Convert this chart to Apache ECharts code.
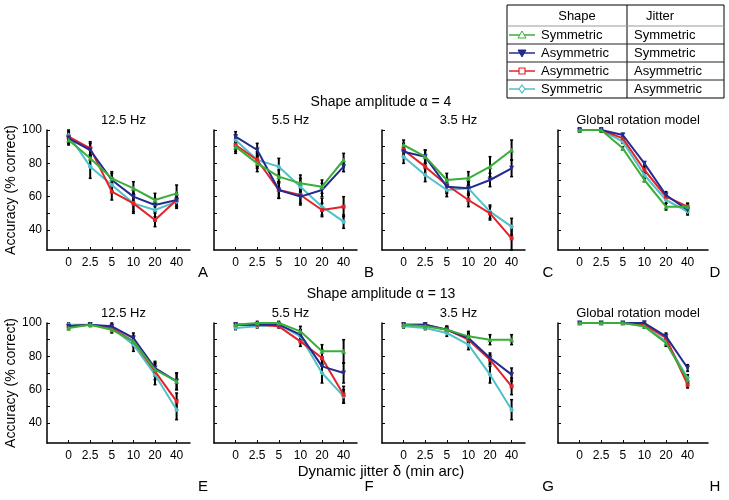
<!DOCTYPE html>
<html><head><meta charset="utf-8">
<script src="https://cdn.jsdelivr.net/npm/echarts@6/dist/echarts.min.js"></script>
<style>html,body{margin:0;padding:0;background:#fff}#c{width:729px;height:500px}</style>
</head><body><div id="c"></div>
<script>
// ---------- data ----------
const jitterLabels = ['0', '2.5', '5', '10', '20', '40'];
const jitterIndex = [0, 1, 2, 3, 4, 5];
const shapeNames = ['Symmetric', 'Asymmetric', 'Asymmetric', 'Symmetric'];
const jitterNames = ['Symmetric', 'Symmetric', 'Asymmetric', 'Asymmetric'];
const panelTitles = ['12.5 Hz', '5.5 Hz', '3.5 Hz', 'Global rotation model',
                     '12.5 Hz', '5.5 Hz', '3.5 Hz', 'Global rotation model'];
const panelLetters = ['A', 'B', 'C', 'D', 'E', 'F', 'G', 'H'];
const rowTitles = ['Shape amplitude \u03b1 = 4', 'Shape amplitude \u03b1 = 13'];
const yTickLabels = [40, 60, 80, 100];
const yTicks = [40, 50, 60, 70, 80, 90, 100];

// series order in each panel: [green Sym/Sym, blue Asym/Sym, red Asym/Asym, cyan Sym/Asym]
const panelA = [[94, 83, 71, 65, 58, 62], [95, 88, 70, 60, 55, 58], [96, 89, 63, 56, 46, 58], [97, 78, 67, 56, 52, 57]];
const panelB = [[90, 80, 72, 68, 66, 82], [96, 88, 64, 60, 64, 78], [91, 82, 64, 61, 52, 54], [94, 82, 78, 66, 54, 45]];
const panelC = [[91, 84, 70, 71, 78, 88], [87, 84, 66, 65, 70, 77], [88, 78, 67, 58, 50, 35], [84, 73, 64, 65, 51, 42]];
const panelD = [[100, 100, 89, 70, 54, 54], [100, 100, 97, 80, 61, 52], [100, 100, 95, 76, 60, 54], [100, 100, 93, 73, 58, 51]];
const panelE = [[97, 99, 96, 89, 72, 65], [98, 99, 98, 91, 73, 65], [98, 99, 97, 89, 71, 53], [99, 99, 97, 87, 69, 48]];
const panelF = [[99, 100, 100, 95, 83, 83], [99, 99, 99, 93, 74, 70], [99, 99, 98, 89, 79, 57], [97, 98, 99, 92, 70, 56]];
const panelG = [[99, 98, 96, 92, 90, 90], [99, 99, 96, 91, 79, 69], [99, 99, 96, 90, 78, 62], [98, 97, 94, 87, 69, 48]];
const panelH = [[100, 100, 100, 98, 88, 66], [100, 100, 100, 100, 92, 73], [100, 100, 100, 99, 91, 63], [100, 100, 100, 98, 89, 67]];

const errA = [[3, 5, 4, 4, 4, 5], [3, 4, 4, 4, 4, 4], [3, 4, 5, 5, 4, 4], [3, 7, 4, 6, 4, 4]];
const errB = [[4, 5, 4, 5, 4, 4], [3, 4, 5, 5, 4, 3], [4, 4, 5, 5, 4, 6], [3, 5, 5, 5, 5, 4]];
const errC = [[3, 4, 4, 4, 6, 6], [3, 4, 4, 4, 4, 5], [4, 5, 4, 4, 4, 7], [4, 4, 4, 4, 4, 5]];
const errD = [[1, 1, 1, 1, 2, 2], [1, 1, 1, 1, 2, 2], [1, 1, 1, 2, 2, 2], [1, 1, 1, 1, 2, 2]];
const errE = [[1, 1, 2, 3, 4, 5], [1, 1, 2, 3, 4, 5], [1, 1, 2, 3, 5, 5], [1, 1, 2, 4, 6, 6]];
const errF = [[1, 1, 1, 3, 4, 7], [1, 1, 1, 3, 4, 6], [1, 1, 1, 3, 5, 5], [1, 1, 1, 3, 6, 4]];
const errG = [[1, 1, 2, 3, 3, 3], [1, 1, 2, 3, 3, 4], [1, 1, 2, 3, 3, 5], [1, 1, 2, 3, 5, 6]];
const errH = [[0.5, 0.5, 0.5, 1, 2, 2], [0.5, 0.5, 0.5, 1, 2, 2], [0.5, 0.5, 0.5, 1, 2, 2], [0.5, 0.5, 0.5, 1, 2, 2]];

const panels = [panelA, panelB, panelC, panelD, panelE, panelF, panelG, panelH];
const errors = [errA, errB, errC, errD, errE, errF, errG, errH];

// ---------- style / layout ----------
const FONT = '"Liberation Sans", Arial, Helvetica, sans-serif';
const colors = ['#3aae3a', '#232b8f', '#e2232a', '#4fc1c8'];
const symbols = ['triangle', 'triangle', 'rect', 'diamond'];
const symbolRot = [0, 180, 0, 0];
const colLeft = [47, 214, 382, 558];
const colWidth = [143, 143, 143, 150];
const rowTop = [130, 323];
const gridH = 120;
const pxPerCat = 21.6;

const grids = [], xAxes = [], yAxes = [], series = [], graphics = [];
for (let p = 0; p < 8; p++) {
  const r = Math.floor(p / 4), c = p % 4;
  grids.push({left: colLeft[c], top: rowTop[r], width: colWidth[c], height: gridH});
  xAxes.push({
    type: 'value', gridIndex: p, min: -1, max: -1 + colWidth[c] / pxPerCat,
    axisLine: {show: true, onZero: false, lineStyle: {color: '#000', width: 1.5}},
    splitLine: {show: false},
    axisTick: {show: true, inside: true, length: 3, customValues: jitterIndex, lineStyle: {color: '#000'}},
    axisLabel: {customValues: jitterIndex, formatter: v => jitterLabels[v], color: '#000',
                fontSize: 12, fontFamily: FONT, margin: 7}
  });
  yAxes.push({
    type: 'value', gridIndex: p, min: 28, max: 100,
    axisLine: {show: true, onZero: false, lineStyle: {color: '#000', width: 1.5}},
    splitLine: {show: false},
    axisTick: {show: true, inside: true, length: 3, customValues: yTicks, lineStyle: {color: '#000'}},
    axisLabel: {show: c === 0, customValues: yTickLabels, color: '#000', fontSize: 12, fontFamily: FONT, margin: 5},
    name: c === 0 ? 'Accuracy (% correct)' : '', nameLocation: 'middle', nameGap: 27,
    nameTextStyle: {color: '#000', fontSize: 14, fontFamily: FONT}
  });
  // error bars
  const ebData = [];
  panels[p].forEach((arr, s) => arr.forEach((v, i) => ebData.push([jitterIndex[i], v - errors[p][s][i], v + errors[p][s][i]])));
  series.push({
    type: 'custom', xAxisIndex: p, yAxisIndex: p, data: ebData, z: 1, silent: true, clip: false,
    encode: {x: 0, y: [1, 2]},
    renderItem: function (params, api) {
      const x = api.value(0);
      const lo = api.coord([x, api.value(1)]);
      const hi = api.coord([x, api.value(2)]);
      return {type: 'group', children: [
        {type: 'line', shape: {x1: lo[0], y1: lo[1], x2: hi[0], y2: hi[1]}, style: {stroke: '#000', lineWidth: 2}},
        {type: 'line', shape: {x1: lo[0] - 1.5, y1: lo[1], x2: lo[0] + 1.5, y2: lo[1]}, style: {stroke: '#000', lineWidth: 1.5}},
        {type: 'line', shape: {x1: hi[0] - 1.5, y1: hi[1], x2: hi[0] + 1.5, y2: hi[1]}, style: {stroke: '#000', lineWidth: 1.5}}
      ]};
    }
  });
  for (let s = 3; s >= 0; s--) {
    series.push({
      type: 'line', xAxisIndex: p, yAxisIndex: p, z: 2 + (3 - s) * 0.1,
      data: panels[p][s].map((v, i) => [jitterIndex[i], v]),
      symbol: symbols[s], symbolRotate: symbolRot[s], symbolSize: s === 2 ? 4 : 5, showSymbol: true,
      lineStyle: {color: colors[s], width: 2}, itemStyle: {color: colors[s]},
      animation: false, silent: true, clip: false
    });
  }
  // panel title
  const cx = colLeft[c] + colWidth[c] / 2 + 5;
  graphics.push({type: 'text', x: cx, y: rowTop[r] - 10,
    style: {text: panelTitles[p], x: 0, y: 0, textAlign: 'center', textVerticalAlign: 'middle', fill: '#000', font: '13px ' + FONT}});
  // panel letter
  const lx = [203, 369, 548, 715][c];
  graphics.push({type: 'text', x: lx, y: rowTop[r] + gridH + 23 + (r === 1 ? 21 : 0),
    style: {text: panelLetters[p], x: 0, y: 0, textAlign: 'center', textVerticalAlign: 'middle', fill: '#000', font: '15px ' + FONT}});
}
// row titles
graphics.push({type: 'text', x: 381, y: 102, style: {text: rowTitles[0], textAlign: 'center', textVerticalAlign: 'middle', fill: '#000', font: '14px ' + FONT}});
graphics.push({type: 'text', x: 381, y: 294, style: {text: rowTitles[1], textAlign: 'center', textVerticalAlign: 'middle', fill: '#000', font: '14px ' + FONT}});
// x axis title
graphics.push({type: 'text', x: 381, y: 472, style: {text: 'Dynamic jitter \u03b4 (min arc)', textAlign: 'center', textVerticalAlign: 'middle', fill: '#000', font: '15px ' + FONT}});

// legend table
const tL = 507, tR = 724, tT = 5, tB = 98, tMid = 627;
const rowLines = [26, 44, 62, 80];
const rowCenters = [35, 53, 71, 89];
graphics.push({type: 'rect', shape: {x: tL, y: tT, width: tR - tL, height: tB - tT}, style: {fill: 'none', stroke: '#000', lineWidth: 1}});
graphics.push({type: 'line', shape: {x1: tMid, y1: tT, x2: tMid, y2: tB}, style: {stroke: '#000', lineWidth: 1}});
rowLines.forEach((y, i) => graphics.push({type: 'line', shape: {x1: tL, y1: y, x2: tR, y2: y}, style: {stroke: i === 0 ? '#999' : '#222', lineWidth: 1}}));
graphics.push({type: 'text', x: 577, y: 16, style: {text: 'Shape', textAlign: 'center', textVerticalAlign: 'middle', fill: '#000', font: '13px ' + FONT}});
graphics.push({type: 'text', x: 660, y: 16, style: {text: 'Jitter', textAlign: 'center', textVerticalAlign: 'middle', fill: '#000', font: '13px ' + FONT}});
rowCenters.forEach((y, s) => {
  graphics.push({type: 'line', shape: {x1: 509, y1: y, x2: 535, y2: y}, style: {stroke: colors[s], lineWidth: 1.5}});
  let shape;
  if (s === 0) shape = {type: 'polygon', shape: {points: [[522, y - 4], [518, y + 3], [526, y + 3]]}, style: {fill: '#fff', stroke: colors[s], lineWidth: 1}};
  else if (s === 1) shape = {type: 'polygon', shape: {points: [[518, y - 3], [526, y - 3], [522, y + 4]]}, style: {fill: colors[s], stroke: colors[s], lineWidth: 1}};
  else if (s === 2) shape = {type: 'rect', shape: {x: 519, y: y - 3, width: 6, height: 6}, style: {fill: '#fff', stroke: colors[s], lineWidth: 1.2}};
  else shape = {type: 'polygon', shape: {points: [[522, y - 4], [525, y], [522, y + 4], [519, y]]}, style: {fill: '#fff', stroke: colors[s], lineWidth: 1.2}};
  graphics.push(shape);
  graphics.push({type: 'text', x: 541, y: y, style: {text: shapeNames[s], textAlign: 'left', textVerticalAlign: 'middle', fill: '#000', font: '13px ' + FONT}});
  graphics.push({type: 'text', x: 634, y: y, style: {text: jitterNames[s], textAlign: 'left', textVerticalAlign: 'middle', fill: '#000', font: '13px ' + FONT}});
});

const chart = echarts.init(document.getElementById('c'), null, {renderer: 'canvas'});
chart.setOption({
  animation: false,
  backgroundColor: '#fff',
  grid: grids, xAxis: xAxes, yAxis: yAxes, series: series,
  graphic: {elements: graphics}
});
</script>
</body></html>
